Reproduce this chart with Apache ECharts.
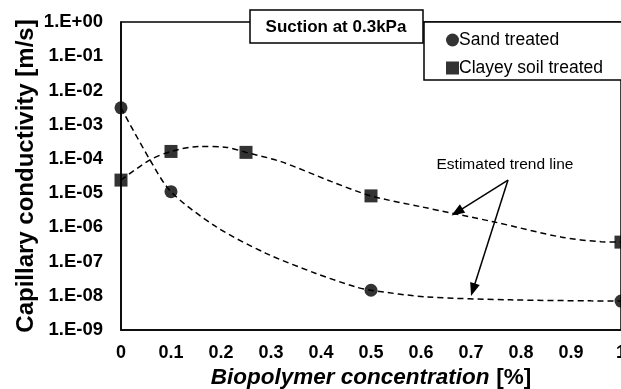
<!DOCTYPE html>
<html>
<head>
<meta charset="utf-8">
<script src="https://cdn.jsdelivr.net/npm/echarts@6/dist/echarts.min.js"></script>
<style>
    html, body {margin: 0; padding: 0; background: #fff;}
    #main {width: 621px; height: 389px;}
</style>
</head>
<body>
<div id="main"></div>
<script>
// 横坐标 biopolymer concentration [%]
var concSand = [0, 0.1, 0.5, 1.0];
var concClay = [0, 0.1, 0.25, 0.5, 1.0];

// 纵坐标 capillary conductivity [m/s]
var kSand = [3.1e-3, 1.1e-5, 1.45e-8, 7.0e-9];
var kClay = [2.4e-5, 1.65e-4, 1.55e-4, 8.3e-6, 3.7e-7];

// dashed "estimated trend line"
var trendXSand = [0, 0.058, 0.1, 0.19, 0.29, 0.39, 0.47, 0.5, 0.61, 0.78, 0.94, 1.0];
var trendYSand = [3.1e-3, 9.3e-5, 1.1e-5, 1.05e-6, 1.74e-7, 4.5e-8, 1.8e-8, 1.45e-8, 9.3e-9, 7.6e-9, 7.1e-9, 7.0e-9];
var trendXClay = [0, 0.058, 0.1, 0.155, 0.208, 0.25, 0.32, 0.42, 0.5, 0.6, 0.745, 0.88, 0.96, 1.0];
var trendYClay = [2.4e-5, 9.3e-5, 1.65e-4, 2.3e-4, 2.2e-4, 1.55e-4, 8.3e-5, 2.2e-5, 8.3e-6, 4.0e-6, 1.45e-6, 5.2e-7, 3.8e-7, 3.7e-7];

var seriesNames = ['Sand treated', 'Clayey soil treated'];

var xTickLabels = ['0', '0.1', '0.2', '0.3', '0.4', '0.5', '0.6', '0.7', '0.8', '0.9', '1'];
var yTickLabels = ['1.E-09', '1.E-08', '1.E-07', '1.E-06', '1.E-05', '1.E-04', '1.E-03', '1.E-02', '1.E-01', '1.E+00'];

// arrow ends (data coords) for "Estimated trend line"
var arrowFrom = [0.774, 2.4e-5];
var arrowTo = [[0.672, 2.8e-6], [0.704, 1.5e-8]];

function pairs(xs, ys) {
    var d = [];
    for (var i = 0; i < xs.length; i++) {
        d.push([xs[i], ys[i]]);
    }
    return d;
}

var myChart = echarts.init(document.getElementById('main'));

var option = {
    animation: false,
    backgroundColor: '#fff',
    textStyle: {fontFamily: 'Liberation Sans, Arial, sans-serif', color: '#000'},
    grid: {
        left: 121, right: 0, top: 22, bottom: 59,
        outerBoundsMode: 'none',
        containLabel: false,
        show: true, borderColor: '#000', borderWidth: 1.5
    },
    legend: {
        orient: 'vertical',
        left: 441, top: 26,
        itemWidth: 13, itemHeight: 13, itemGap: 10,
        textStyle: {fontSize: 17.5, color: '#000', padding: [0, 0, 0, -5]},
        data: [
            {name: seriesNames[0], icon: 'circle'},
            {name: seriesNames[1], icon: 'rect'}
        ]
    },
    xAxis: {
        type: 'value',
        min: 0, max: 1, interval: 0.1,
        name: '{a|Biopolymer concentration}  {b|[%]}',
        nameLocation: 'middle',
        nameGap: 36,
        nameMoveOverlap: false,
        nameTextStyle: {
            rich: {
                a: {fontSize: 22.5, fontWeight: 'bold', fontStyle: 'italic', color: '#000'},
                b: {fontSize: 22.5, fontWeight: 'bold', color: '#000'}
            }
        },
        axisLine: {show: true, lineStyle: {color: '#000', width: 1.5}},
        axisTick: {show: false},
        splitLine: {show: false},
        axisLabel: {
            fontSize: 18, fontWeight: 'bold', color: '#000', margin: 14,
            formatter: function (v) { return xTickLabels[Math.round(v * 10)]; }
        }
    },
    yAxis: {
        type: 'log',
        logBase: 10,
        min: 1e-9, max: 1, interval: 1,
        name: 'Capillary conductivity [m/s]',
        nameLocation: 'middle',
        nameGap: 83,
        nameMoveOverlap: false,
        nameTextStyle: {fontSize: 24, fontWeight: 'bold', color: '#000'},
        axisLine: {show: true, lineStyle: {color: '#000', width: 1.5}},
        axisTick: {show: false},
        splitLine: {show: false},
        axisLabel: {
            fontSize: 18.5, fontWeight: 'bold', color: '#000', margin: 18,
            formatter: function (v) { return yTickLabels[Math.round(Math.log10(v)) + 9]; }
        }
    },
    graphic: [
        {   // legend box
            type: 'rect', z: 3,
            shape: {x: 424, y: 22, width: 220, height: 58},
            style: {fill: '#fff', stroke: '#000', lineWidth: 1.5}
        },
        {   // suction label box
            type: 'rect', z: 3,
            shape: {x: 250, y: 10, width: 173, height: 33},
            style: {fill: '#fff', stroke: '#000', lineWidth: 1.5}
        },
        {
            type: 'text', z: 4,
            x: 336, y: 27,
            style: {
                text: 'Suction at 0.3kPa', fill: '#000',
                font: 'bold 17px Liberation Sans, Arial, sans-serif',
                align: 'center', verticalAlign: 'middle'
            }
        },
        {
            type: 'text', z: 4,
            x: 505, y: 165,
            style: {
                text: 'Estimated trend line', fill: '#000',
                font: '15.5px Liberation Sans, Arial, sans-serif',
                align: 'center', verticalAlign: 'middle'
            }
        }
    ],
    series: [
        {   // trend lines
            type: 'line', smooth: 0.3, symbol: 'none', silent: true,
            lineStyle: {color: '#000', width: 1.5, type: [6, 4]},
            data: pairs(trendXSand, trendYSand),
            z: 2
        },
        {
            type: 'line', smooth: 0.3, symbol: 'none', silent: true,
            lineStyle: {color: '#000', width: 1.5, type: [6, 4]},
            data: pairs(trendXClay, trendYClay),
            z: 2,
            markLine: {
                silent: true,
                symbol: ['none', 'triangle'],
                symbolSize: [10, 13],
                label: {show: false},
                lineStyle: {color: '#000', width: 1.5, type: 'solid'},
                data: [
                    [{coord: arrowFrom}, {coord: arrowTo[0]}],
                    [{coord: arrowFrom}, {coord: arrowTo[1]}]
                ]
            }
        },
        {
            name: seriesNames[0], type: 'scatter',
            symbol: 'circle', symbolSize: 13,
            itemStyle: {color: '#000'},
            data: pairs(concSand, kSand),
            z: 5
        },
        {
            name: seriesNames[1], type: 'scatter',
            symbol: 'rect', symbolSize: 13,
            itemStyle: {color: '#000'},
            data: pairs(concClay, kClay),
            z: 5
        }
    ]
};

myChart.setOption(option);
</script>
</body>
</html>
